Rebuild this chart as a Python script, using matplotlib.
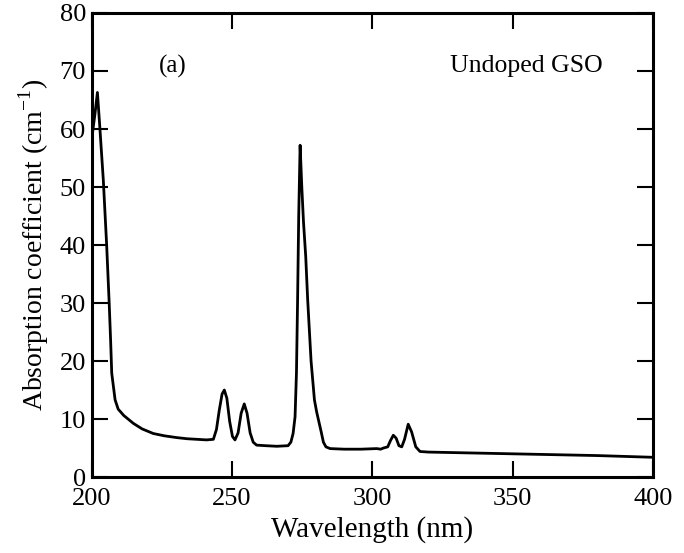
import matplotlib
matplotlib.use('Agg')
import matplotlib.pyplot as plt

plt.rcParams['font.family'] = ['Liberation Serif', 'DejaVu Serif']
plt.rcParams['mathtext.fontset'] = 'custom'
plt.rcParams['mathtext.rm'] = 'Liberation Serif'

# absorption spectrum
wavelength = [200.0, 200.4, 201.2, 202.1, 203.0, 204.2, 205.4, 206.3, 206.8,
              207.2, 208.4, 209.5, 211.5, 214.9, 218.0, 222.0, 226.0, 230.3,
              234.0, 237.5, 241.0, 243.4, 244.5, 245.5, 246.5, 247.3, 248.2,
              249.2, 250.2, 251.1, 252.2, 253.3, 254.4, 255.4, 256.5, 257.6,
              258.8, 262.0, 266.0, 270.0, 271.0, 271.8, 272.5, 273.0, 273.4,
              273.8, 274.3, 274.9, 275.5, 276.3, 277.0, 278.2, 279.4, 280.2,
              281.0, 281.8, 282.6, 283.5, 285.0, 290.0, 296.0, 301.6, 303.0,
              304.0, 305.5, 306.5, 307.5, 308.5, 309.5, 310.5, 311.5, 312.8,
              314.0, 315.5, 317.0, 320.0, 330.0, 340.0, 350.0, 360.0, 370.0,
              380.0, 390.0, 400.0]
absorption = [68.4, 59.5, 62.5, 66.3, 60.0, 51.2, 39.9, 29.9, 23.6,
              17.9, 13.3, 11.7, 10.6, 9.25, 8.3, 7.5, 7.1, 6.8,
              6.6, 6.5, 6.4, 6.5, 8.2, 11.5, 14.3, 15.0, 13.6,
              9.6, 7.0, 6.4, 7.6, 11.0, 12.6, 11.0, 7.6, 6.0,
              5.5, 5.4, 5.3, 5.4, 6.0, 7.5, 10.4, 18.0, 30.5,
              45.0, 57.2, 50.0, 44.0, 38.0, 30.5, 20.0, 13.3, 11.2,
              9.5, 7.8, 6.0, 5.2, 4.9, 4.8, 4.8, 4.9, 4.8,
              5.0, 5.2, 6.3, 7.2, 6.7, 5.4, 5.2, 6.5, 9.1,
              7.8, 5.2, 4.4, 4.3, 4.2, 4.1, 4.0, 3.9, 3.8,
              3.7, 3.55, 3.4]

x_ticks = [200, 250, 300, 350, 400]
y_ticks = [0, 10, 20, 30, 40, 50, 60, 70, 80]

fig = plt.figure(figsize=(6.84, 5.53), dpi=100)
ax = fig.add_axes([0.1338, 0.1374, 0.8209, 0.8391])

ax.plot(wavelength, absorption, color='black', linewidth=2.0,
        solid_joinstyle='round')

ax.set_xlim(200, 400)
ax.set_ylim(0, 80)
ax.set_xticks(x_ticks)
ax.set_yticks(y_ticks)

for sp in ax.spines.values():
    sp.set_linewidth(2.2)
ax.tick_params(direction='in', length=11.5, width=1.5, labelsize=19,
               top=True, right=True)
ax.tick_params(axis='x', pad=8)
ax.tick_params(axis='y', pad=4)

ax.set_xlabel('Wavelength (nm)', fontsize=21, labelpad=4)
ax.set_ylabel(r'Absorption coefficient (cm$^{\mathregular{-1}}$)',
              fontsize=20, labelpad=6)

ax.text(0.145, 0.885, '(a)', transform=ax.transAxes, fontsize=18,
        ha='center', va='center')
ax.text(0.775, 0.885, 'Undoped GSO', transform=ax.transAxes, fontsize=18.5,
        ha='center', va='center')

fig.savefig('out.png', dpi=100)
